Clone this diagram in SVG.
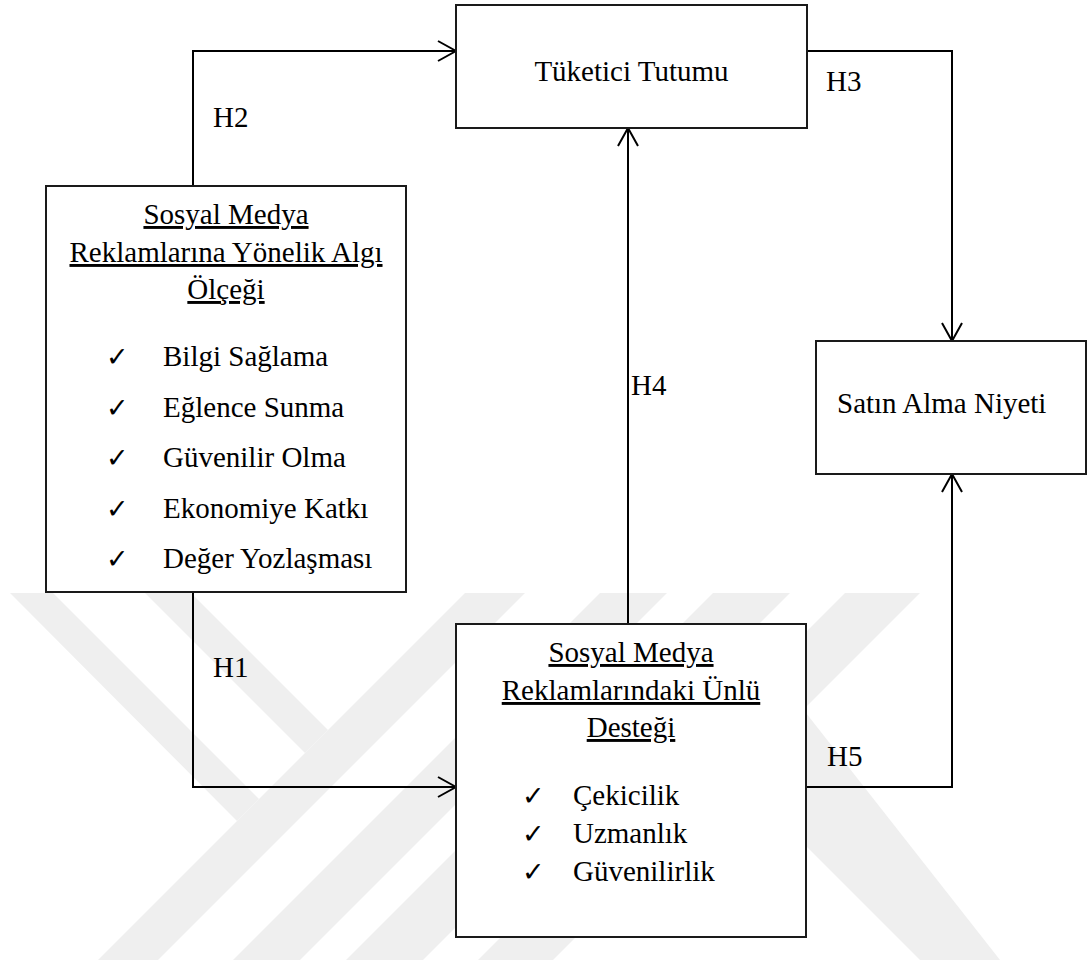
<svg xmlns="http://www.w3.org/2000/svg" width="1088" height="967" viewBox="0 0 1088 967">
  <defs>
    <marker id="arrow" viewBox="-20 -12 22 24" refX="0" refY="0" markerWidth="22" markerHeight="24" markerUnits="userSpaceOnUse" orient="auto">
      <path d="M -18 -10 L 0 0 L -18 10" fill="none" stroke="#000" stroke-width="2"/>
    </marker>
  </defs>
  <style>
    .box { fill: #fff; stroke: #1a1a1a; stroke-width: 2; }
    .edge { fill: none; stroke: #000; stroke-width: 2; }
    .t { font-family: "Liberation Serif", "Times New Roman", serif; font-size: 29px; fill: #000; }
    .mid { text-anchor: middle; }
    .u { text-decoration: underline; }
    .chk { font-family: "DejaVu Sans", sans-serif; font-size: 27px; fill: #000; }
    .wm { fill: #efefef; }
  </style>

  <rect width="1088" height="967" fill="#fff"/>

  <!-- background mark -->
  <g id="watermark">
    <polygon class="wm" points="10,593 53,593 259,799 237,821"/>
    <polygon class="wm" points="145,593 191,593 328,730 305,753"/>
    <polygon class="wm" points="465,593 525,593 158,960 98,960"/>
    <polygon class="wm" points="600,593 667,593 300,960 233,960"/>
    <polygon class="wm" points="713,593 790,593 423,960 346,960"/>
    <polygon class="wm" points="845,593 920,593 553,960 478,960"/>
    <polygon class="wm" points="773,746 806,713 1000,960 920,960 806,846"/>
  </g>

  <!-- connectors -->
  <g id="connectors">
    <polyline id="h2" class="edge" points="193,186 193,51 456,51" marker-end="url(#arrow)"/>
    <polyline id="h3" class="edge" points="807,51 952,51 952,341" marker-end="url(#arrow)"/>
    <polyline id="h4" class="edge" points="628,624 628,128" marker-end="url(#arrow)"/>
    <polyline id="h5" class="edge" points="806,787 952,787 952,474" marker-end="url(#arrow)"/>
    <polyline id="h1" class="edge" points="193,592 193,787 456,787" marker-end="url(#arrow)"/>
  </g>

  <!-- hypothesis labels -->
  <g id="labels">
    <text class="t" x="213" y="127">H2</text>
    <text class="t" x="826" y="91">H3</text>
    <text class="t" x="631" y="395">H4</text>
    <text class="t" x="213" y="677">H1</text>
    <text class="t" x="827" y="766">H5</text>
  </g>

  <g id="tuketici-tutumu">
    <rect class="box" x="456" y="5" width="351" height="123"/>
    <text class="t mid" x="631.5" y="81">Tüketici Tutumu</text>
  </g>

  <g id="algi-olcegi">
    <rect class="box" x="46" y="186" width="360" height="406"/>
    <text class="t mid u" x="226" y="224">Sosyal Medya</text>
    <text class="t mid u" x="226" y="262">Reklamlarına Yönelik Algı</text>
    <text class="t mid u" x="226" y="299">Ölçeği</text>
    <text class="chk" x="106" y="366">✓</text>
    <text class="t" x="163" y="366">Bilgi Sağlama</text>
    <text class="chk" x="106" y="417">✓</text>
    <text class="t" x="163" y="417">Eğlence Sunma</text>
    <text class="chk" x="106" y="467">✓</text>
    <text class="t" x="163" y="467">Güvenilir Olma</text>
    <text class="chk" x="106" y="518">✓</text>
    <text class="t" x="163" y="518">Ekonomiye Katkı</text>
    <text class="chk" x="106" y="568">✓</text>
    <text class="t" x="163" y="568">Değer Yozlaşması</text>
  </g>

  <g id="satin-alma-niyeti">
    <rect class="box" x="816" y="341" width="270" height="133"/>
    <text class="t" x="837" y="413">Satın Alma Niyeti</text>
  </g>

  <g id="unlu-destegi">
    <rect class="box" x="456" y="624" width="350" height="313"/>
    <text class="t mid u" x="631" y="662">Sosyal Medya</text>
    <text class="t mid u" x="631" y="700">Reklamlarındaki Ünlü</text>
    <text class="t mid u" x="631" y="737">Desteği</text>
    <text class="chk" x="522" y="805">✓</text>
    <text class="t" x="573" y="805">Çekicilik</text>
    <text class="chk" x="522" y="843">✓</text>
    <text class="t" x="573" y="843">Uzmanlık</text>
    <text class="chk" x="522" y="881">✓</text>
    <text class="t" x="573" y="881">Güvenilirlik</text>
  </g>
</svg>
